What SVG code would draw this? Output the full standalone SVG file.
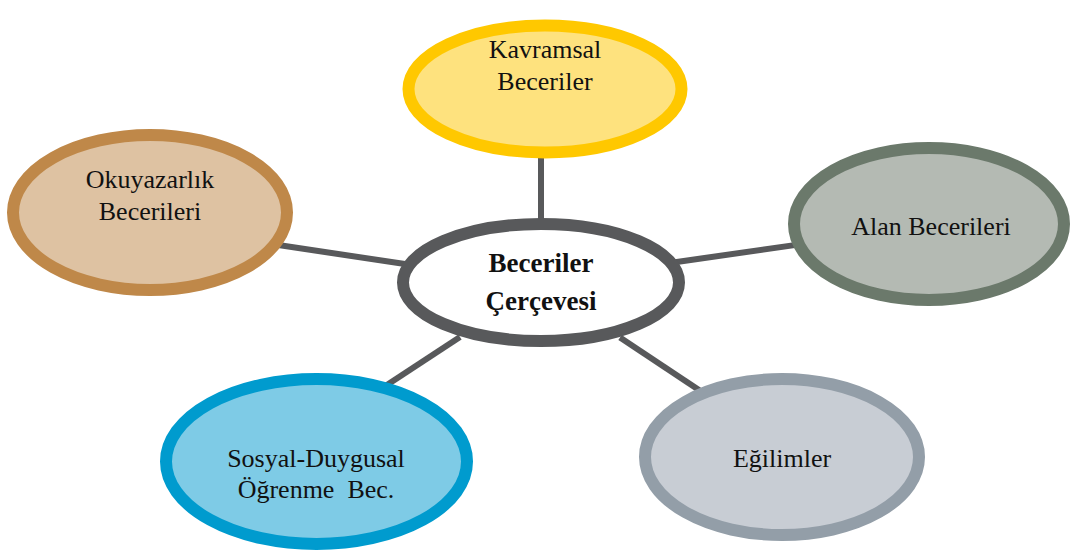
<svg xmlns="http://www.w3.org/2000/svg" width="1070" height="554" viewBox="0 0 1070 554">
<style>
  .conn { stroke: #58595B; stroke-width: 6; fill: none; }
  .node { stroke-width: 12; }
  .t { font-family: "Liberation Serif", "Times New Roman", serif; font-size: 26px; fill: #111; text-anchor: middle; }
  .tb { font-family: "Liberation Serif", "Times New Roman", serif; font-size: 27px; font-weight: bold; fill: #111; text-anchor: middle; }
</style>
<rect width="1070" height="554" fill="#FFFFFF"/>
<g id="connectors">
  <line class="conn" x1="541" y1="150" x2="541" y2="225"/>
  <line class="conn" x1="270" y1="243.8" x2="415" y2="265.5"/>
  <line class="conn" x1="668" y1="263.2" x2="805" y2="243.6"/>
  <line class="conn" x1="380" y1="389.5" x2="460" y2="337"/>
  <line class="conn" x1="620" y1="337.5" x2="708" y2="396"/>
</g>
<g id="node-kavramsal">
  <ellipse class="node" cx="545" cy="89" rx="136.5" ry="63.5" fill="#FEE27E" stroke="#FFC800" stroke-width="11"/>
  <text class="t" x="545" y="58">Kavramsal</text>
  <text class="t" x="545" y="90">Beceriler</text>
</g>
<g id="node-okuyazarlik">
  <ellipse class="node" cx="150" cy="212.5" rx="137" ry="77.5" fill="#DEC2A2" stroke="#BF8849"/>
  <text class="t" x="150" y="188">Okuyazarlık</text>
  <text class="t" x="150" y="220">Becerileri</text>
</g>
<g id="node-alan">
  <ellipse class="node" cx="929" cy="224" rx="135" ry="76" fill="#B4BAB3" stroke="#6B796B"/>
  <text class="t" x="931" y="235">Alan Becerileri</text>
</g>
<g id="node-center">
  <ellipse class="node" cx="541" cy="282.5" rx="138" ry="58.5" fill="#FFFFFF" stroke="#58595B"/>
  <text class="tb" x="541" y="272">Beceriler</text>
  <text class="tb" x="541" y="310">Çerçevesi</text>
</g>
<g id="node-sosyal">
  <ellipse class="node" cx="316.5" cy="461.5" rx="150.5" ry="82.5" fill="#7ECBE6" stroke="#009BCE"/>
  <text class="t" x="316" y="467">Sosyal-Duygusal</text>
  <text class="t" x="316" y="498" style="white-space:pre" xml:space="preserve">Öğrenme  Bec.</text>
</g>
<g id="node-egilimler">
  <ellipse class="node" cx="782" cy="457" rx="137" ry="78" fill="#C8CDD4" stroke="#939EA8"/>
  <text class="t" x="782" y="467">Eğilimler</text>
</g>
</svg>
